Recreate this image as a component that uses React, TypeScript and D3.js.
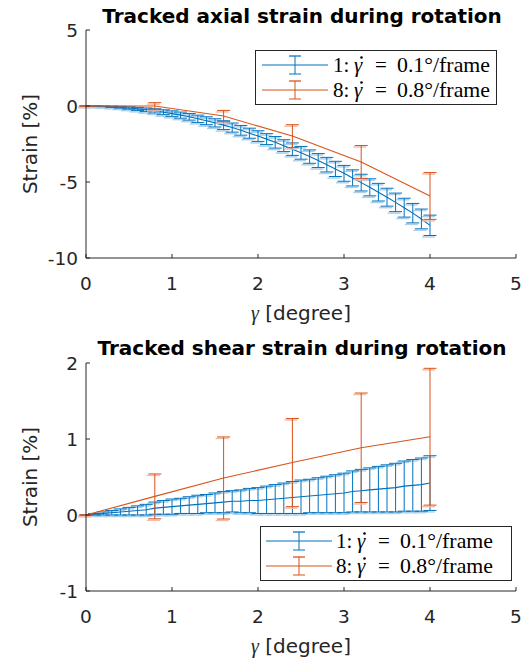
import React from "react";
import * as d3 from "d3";

// ---- data ----
const gammaFine = [0,0.1,0.2,0.3,0.4,0.5,0.6,0.7,0.8,0.9,1.0,1.1,1.2,1.3,1.4,1.5,1.6,1.7,1.8,1.9,2.0,2.1,2.2,2.3,2.4,2.5,2.6,2.7,2.8,2.9,3.0,3.1,3.2,3.3,3.4,3.5,3.6,3.7,3.8,3.9,4.0];
const gammaCoarse = [0, 0.8, 1.6, 2.4, 3.2, 4.0];

const axialS1 = [0,-0.01,-0.02,-0.05,-0.08,-0.13,-0.19,-0.25,-0.32,-0.41,-0.50,-0.60,-0.71,-0.84,-0.97,-1.11,-1.26,-1.42,-1.60,-1.79,-1.98,-2.18,-2.39,-2.61,-2.84,-3.08,-3.33,-3.59,-3.86,-4.14,-4.43,-4.73,-5.04,-5.35,-5.67,-6.00,-6.34,-6.69,-7.05,-7.43,-7.85];
const axialS1Err = [0,0.01,0.02,0.04,0.06,0.08,0.10,0.12,0.14,0.16,0.18,0.20,0.22,0.24,0.26,0.27,0.29,0.30,0.32,0.33,0.35,0.36,0.38,0.39,0.41,0.42,0.44,0.46,0.48,0.50,0.52,0.53,0.55,0.56,0.58,0.59,0.61,0.62,0.64,0.65,0.67];
const axialS8 = [0, 0, -0.66, -1.98, -3.68, -5.92];
const axialS8Err = [0, 0.22, 0.37, 0.75, 1.08, 1.54];

const shearS1 = [0,0.01,0.02,0.03,0.04,0.05,0.06,0.07,0.09,0.10,0.11,0.12,0.13,0.14,0.15,0.16,0.17,0.18,0.18,0.19,0.19,0.20,0.21,0.22,0.23,0.24,0.25,0.26,0.27,0.28,0.29,0.31,0.32,0.33,0.34,0.35,0.36,0.38,0.39,0.40,0.42];
const shearS1Err = [0,0.01,0.02,0.03,0.04,0.05,0.06,0.07,0.08,0.09,0.10,0.10,0.11,0.12,0.12,0.13,0.14,0.14,0.15,0.16,0.17,0.18,0.19,0.20,0.21,0.22,0.22,0.23,0.24,0.25,0.26,0.27,0.28,0.29,0.30,0.31,0.32,0.33,0.34,0.35,0.36];
const shearS8 = [0, 0.245, 0.487, 0.69, 0.885, 1.03];
const shearS8Err = [0, 0.295, 0.54, 0.58, 0.72, 0.90];

const xTicks = [0, 1, 2, 3, 4, 5];
const axialTicks = [-10, -5, 0, 5];
const shearTicks = [-1, 0, 1, 2];
const legendLabels = ["1:", "8:"];
const legendRates = ["0.1°/frame", "0.8°/frame"];

const BLUE = "#0072BD";
const ORANGE = "#D95319";
const BLUE_L = "#a9d0ec";
const ORANGE_L = "#f4bba6";
const AX = "#262626";
const SANS = "'DejaVu Sans', Verdana, sans-serif";
const SERIF = "'Liberation Serif', 'Times New Roman', serif";

type Series = { x: number[]; y: number[]; e: number[]; color: string; light: string };

function ErrorSeries({ s, xs, ys }: { s: Series; xs: any; ys: any }) {
  const line = d3.line<number>().x((_, i) => xs(s.x[i])).y((d) => ys(d));
  const cw = 6.5;
  return (
    <g>
      {s.x.map((xv, i) => {
        const px = xs(xv);
        const top = ys(s.y[i] + s.e[i]);
        const bot = ys(s.y[i] - s.e[i]);
        return (
          <g key={"l" + i} stroke={s.light} strokeWidth={1.4}>
            <line x1={px - cw - 1.5} x2={px + cw - 1.5} y1={top + 1.5} y2={top + 1.5} />
            <line x1={px - cw - 1.5} x2={px + cw - 1.5} y1={bot + 1.5} y2={bot + 1.5} />
          </g>
        );
      })}
      {s.x.map((xv, i) => {
        const px = xs(xv);
        const top = ys(s.y[i] + s.e[i]);
        const bot = ys(s.y[i] - s.e[i]);
        return (
          <g key={"e" + i} stroke={s.color} strokeWidth={1}>
            <line x1={px} x2={px} y1={top} y2={bot} />
            <line x1={px - cw} x2={px + cw} y1={top} y2={top} />
            <line x1={px - cw} x2={px + cw} y1={bot} y2={bot} />
          </g>
        );
      })}
      <path d={line(s.y) || ""} fill="none" stroke={s.color} strokeWidth={1.1} />
    </g>
  );
}

function Legend({ x0, y0, w, h, lineX0, lineX1, textX }: any) {
  const rows = [
    { color: BLUE, light: BLUE_L, lab: legendLabels[0], rate: legendRates[0] },
    { color: ORANGE, light: ORANGE_L, lab: legendLabels[1], rate: legendRates[1] },
  ];
  const rowY = [y0 + 14.5, y0 + 39.5];
  const cx = (lineX0 + lineX1) / 2;
  return (
    <g>
      <rect x={x0} y={y0} width={w} height={h} fill="#fff" stroke={AX} strokeWidth={1} />
      {rows.map((r, i) => {
        const by = rowY[i] + 6.5;
        return (
          <g key={i}>
            <line x1={cx - 6} x2={cx + 6} y1={rowY[i] - 9} y2={rowY[i] - 9} stroke={r.light} strokeWidth={1.4} />
            <line x1={lineX0} x2={lineX1} y1={rowY[i]} y2={rowY[i]} stroke={r.color} strokeWidth={1.1} />
            <line x1={cx} x2={cx} y1={rowY[i] - 9} y2={rowY[i] + 9} stroke={r.color} strokeWidth={1} />
            <line x1={cx - 6} x2={cx + 6} y1={rowY[i] - 9} y2={rowY[i] - 9} stroke={r.color} strokeWidth={1} />
            <line x1={cx - 6} x2={cx + 6} y1={rowY[i] + 9} y2={rowY[i] + 9} stroke={r.color} strokeWidth={1} />
            <g fontFamily={SERIF} fontSize={21} fill="#000">
              <text x={textX} y={by}>{r.lab}</text>
              <text x={textX + 21} y={by} fontStyle="italic">γ</text>
              <circle cx={textX + 28.5} cy={by - 14} r={1.3} fill="#000" />
              <text x={textX + 42} y={by}>=</text>
              <text x={textX + 64} y={by} textLength={93} lengthAdjust="spacingAndGlyphs">{r.rate}</text>
            </g>
          </g>
        );
      })}
    </g>
  );
}

function Panel({ top, bottom, domain, ticks, title, titleY, s1, s8, legend }: any) {
  const xs = d3.scaleLinear().domain([0, 5]).range([86, 516]);
  const ys = d3.scaleLinear().domain(domain).range([bottom, top]);
  const left = xs(0);
  return (
    <g>
      <text x={302} y={titleY} textAnchor="middle" fontFamily={SANS} fontWeight="bold" fontSize={20} fill="#000">
        {title}
      </text>
      <ErrorSeries s={s1} xs={xs} ys={ys} />
      <ErrorSeries s={s8} xs={xs} ys={ys} />
      {/* axes */}
      <line x1={left} x2={left} y1={top} y2={bottom} stroke={AX} strokeWidth={1} />
      <line x1={left} x2={xs(5)} y1={bottom} y2={bottom} stroke={AX} strokeWidth={1} />
      {xTicks.map((t) => (
        <g key={"x" + t}>
          <line x1={xs(t)} x2={xs(t)} y1={bottom} y2={bottom - 4} stroke={AX} />
          <text x={xs(t)} y={bottom + 32} textAnchor="middle" fontFamily={SANS} fontSize={18.5} fill={AX}>
            {t}
          </text>
        </g>
      ))}
      {ticks.map((t: number) => (
        <g key={"y" + t}>
          <line x1={left} x2={left + 4} y1={ys(t)} y2={ys(t)} stroke={AX} />
          <text x={left - 8} y={ys(t) + 6.5} textAnchor="end" fontFamily={SANS} fontSize={18.5} fill={AX}>
            {t}
          </text>
        </g>
      ))}
      <text
        transform={`translate(37,${(top + bottom) / 2}) rotate(-90)`}
        textAnchor="middle"
        fontFamily={SANS}
        fontSize={20}
        fill={AX}
      >
        Strain [%]
      </text>
      <text x={301} y={bottom + 62} textAnchor="middle" fontFamily={SANS} fontSize={20} fill={AX}>
        <tspan fontFamily={SERIF} fontStyle="italic">γ</tspan> [degree]
      </text>
      {legend}
    </g>
  );
}

export default function App() {
  React.useEffect(() => {
    document.body.style.margin = "0";
  }, []);
  const topS1: Series = { x: gammaFine, y: axialS1, e: axialS1Err, color: BLUE, light: BLUE_L };
  const topS8: Series = { x: gammaCoarse, y: axialS8, e: axialS8Err, color: ORANGE, light: ORANGE_L };
  const botS1: Series = { x: gammaFine, y: shearS1, e: shearS1Err, color: BLUE, light: BLUE_L };
  const botS8: Series = { x: gammaCoarse, y: shearS8, e: shearS8Err, color: ORANGE, light: ORANGE_L };
  return (
    <svg width={529} height={664} style={{ position: "absolute", left: 0, top: 0, background: "#fff" }}>
      <rect width={529} height={664} fill="#fff" />
      <Panel
        top={30}
        bottom={258}
        domain={[-10, 5]}
        ticks={axialTicks}
        title="Tracked axial strain during rotation"
        titleY={23}
        s1={topS1}
        s8={topS8}
        legend={<Legend x0={255.5} y0={50.5} w={241} h={54} lineX0={262} lineX1={328} textX={333} />}
      />
      <Panel
        top={363}
        bottom={591}
        domain={[-1, 2]}
        ticks={shearTicks}
        title="Tracked shear strain during rotation"
        titleY={355}
        s1={botS1}
        s8={botS8}
        legend={<Legend x0={260.5} y0={526.5} w={251} h={54} lineX0={266} lineX1={332} textX={336} />}
      />
    </svg>
  );
}
